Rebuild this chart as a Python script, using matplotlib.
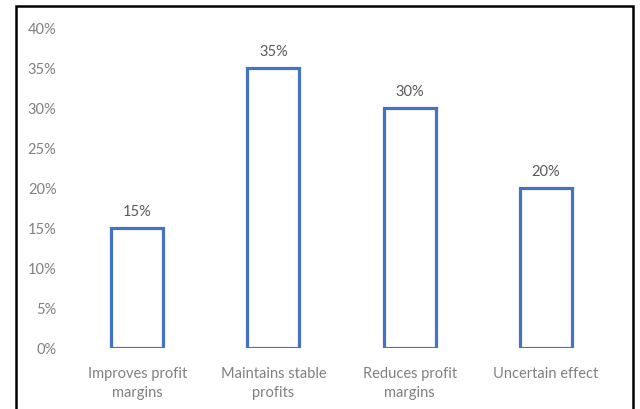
import matplotlib.pyplot as plt
from matplotlib.patches import Rectangle

categories = ['Improves profit\nmargins', 'Maintains stable\nprofits',
              'Reduces profit\nmargins', 'Uncertain effect']
shares = [15, 35, 30, 20]
yticks = [0, 5, 10, 15, 20, 25, 30, 35, 40]

blue = '#4472C4'
grey = '#808080'
plt.rcParams['font.family'] = ['Lato', 'DejaVu Sans']

fig = plt.figure(figsize=(6.4, 4.1), dpi=100)
ax = fig.add_axes([69 / 640, 1 - 348.5 / 410, 545 / 640, 320 / 410])

x = range(len(categories))
ax.bar(x, shares, width=0.38, facecolor='white', edgecolor=blue, linewidth=2.3)
for xi, v in zip(x, shares):
    ax.text(xi, v + 1.2, f'{v}%', ha='center', va='bottom', fontsize=10.5, color='#595959')

ax.set_xlim(-0.5, len(categories) - 0.5)
ax.set_ylim(0, 40)
ax.set_yticks(yticks)
ax.set_yticklabels([f'{t}%' for t in yticks])
ax.set_xticks(list(x))
ax.set_xticklabels(categories, linespacing=1.5)
ax.tick_params(axis='both', length=0, colors=grey, labelsize=10.5)
ax.tick_params(axis='y', pad=9)
ax.tick_params(axis='x', pad=13)
for s in ax.spines.values():
    s.set_visible(False)

# outer frame
fig.patches.append(Rectangle((15.5 / 640, -0.05), 617 / 640, 1.05 - 6.5 / 410,
                             transform=fig.transFigure, fill=False,
                             edgecolor='black', linewidth=1.8))

fig.savefig('out.png', dpi=100)
